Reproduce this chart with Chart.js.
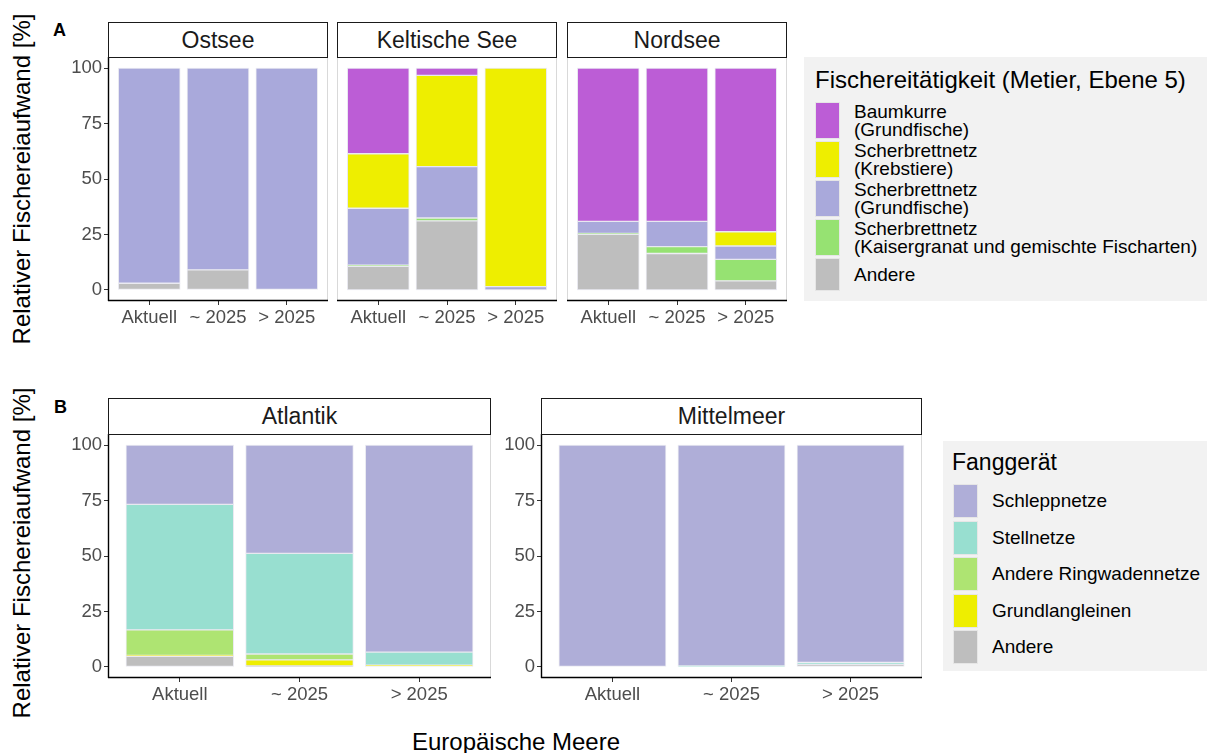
<!DOCTYPE html>
<html>
<head>
<meta charset="utf-8">
<script src="https://cdn.jsdelivr.net/npm/chart.js@4.4.1/dist/chart.umd.min.js"></script>
<style>
  body { margin: 0; background: #fff; font-family: "Liberation Sans", Arial, sans-serif; }
  #page { position: relative; width: 1207px; height: 753px; overflow: hidden; background: #fff; }
  .facet { position: absolute; }
  .strip { position: absolute; box-sizing: border-box; border: 1.3px solid #1a1a1a; background: #fff;
           display: flex; align-items: center; justify-content: center; font-size: 23px; color: #1a1a1a; }
  .ytitle { position: absolute; font-size: 24px; color: #000; white-space: nowrap;
            transform: translate(-50%, -50%) rotate(-90deg); }
  .tag { position: absolute; font-size: 18px; font-weight: bold; color: #000; }
  .legend { position: absolute; background: #f2f2f2; }
  .legend .title { position: absolute; font-size: 23px; color: #000; white-space: nowrap; }
  .legend .key { position: absolute; box-sizing: border-box; border: 1px solid #e6e6e6; }
  .legend .lab { position: absolute; font-size: 19px; line-height: 18px; color: #000; white-space: pre; }
  .xtitle { position: absolute; font-size: 24px; color: #000; white-space: nowrap; transform: translateX(-50%); }
</style>
</head>
<body>
<div id="page"></div>
<script>
const periods = ["Aktuell", "~ 2025", "> 2025"];
const yTicks = [0, 25, 50, 75, 100];

// A: Fischereitätigkeit (Metier, Ebene 5), Anteile in %
const metierLabels = ["Baumkurre\n(Grundfische)", "Scherbrettnetz\n(Krebstiere)", "Scherbrettnetz\n(Grundfische)",
  "Scherbrettnetz\n(Kaisergranat und gemischte Fischarten)", "Andere"];
const metierColors = ["#bc5dd6", "#eeee00", "#a9a9db", "#96e272", "#bebebe"];

const ostseeBaumkurre = [0, 0, 0];
const ostseeKrebstiere = [0, 0, 0];
const ostseeGrundfische = [97, 91, 100];
const ostseeKaisergranat = [0, 0, 0];
const ostseeAndere = [3, 9, 0];

const keltBaumkurre = [38.6, 3.3, 0];
const keltKrebstiere = [24.6, 41.1, 98.5];
const keltGrundfische = [25.6, 23.2, 1.5];
const keltKaisergranat = [0.6, 1.3, 0];
const keltAndere = [10.6, 31.1, 0];

const nordBaumkurre = [69.1, 69.1, 73.8];
const nordKrebstiere = [0, 0, 6.4];
const nordGrundfische = [5.4, 11.4, 6];
const nordKaisergranat = [0.5, 3.1, 9.7];
const nordAndere = [25, 16.4, 4.1];

// B: Fanggerät, Anteile in %
const gearLabels = ["Schleppnetze", "Stellnetze", "Andere Ringwadennetze", "Grundlangleinen", "Andere"];
const gearColors = ["#afaed8", "#98dfd0", "#aee472", "#eeee00", "#bebebe"];

const atlSchlepp = [26.7, 48.8, 93.3];
const atlStell = [56.6, 45.4, 5.9];
const atlRingwaden = [11.5, 2.6, 0];
const atlLangleinen = [0.4, 2.7, 0.8];
const atlAndere = [4.8, 0.5, 0];

const mitSchlepp = [100, 99.5, 98];
const mitStell = [0, 0.5, 1];
const mitRingwaden = [0, 0, 0];
const mitLangleinen = [0, 0, 0];
const mitAndere = [0, 0, 1];

const FONT = "'Liberation Sans', Arial, sans-serif";
const page = document.getElementById("page");

function el(cls, css, text) {
  const d = document.createElement("div");
  d.className = cls;
  Object.assign(d.style, css);
  if (text !== undefined) d.textContent = text;
  page.appendChild(d);
  return d;
}

// Rahmen + Achsenlinien wie bei ggplot
const panelFrame = {
  id: "panelFrame",
  beforeDatasetsDraw(chart) {
    const a = chart.chartArea, ctx = chart.ctx;
    ctx.save();
    ctx.strokeStyle = "#d9d9d9";
    ctx.lineWidth = 1;
    ctx.strokeRect(a.left + 0.5, a.top + 0.5, a.right - a.left - 1, a.bottom - a.top - 1);
    ctx.restore();
  },
  afterDatasetsDraw(chart, args, opts) {
    const a = chart.chartArea, ctx = chart.ctx;
    ctx.save();
    ctx.strokeStyle = "#000";
    ctx.lineWidth = 1.4;
    ctx.beginPath();
    ctx.moveTo(a.left, a.bottom - 0.5);
    ctx.lineTo(a.right, a.bottom - 0.5);
    if (opts.leftAxis) {
      ctx.moveTo(a.left + 0.5, a.top);
      ctx.lineTo(a.left + 0.5, a.bottom);
    }
    ctx.stroke();
    ctx.restore();
  }
};

function noPad(s) {
  s.paddingTop = 0; s.paddingBottom = 0; s.paddingLeft = 0; s.paddingRight = 0;
}

// series: von unten nach oben gestapelt
function facet(name, left, top, panelW, panelH, axisW, showY, series, colors, stripH) {
  const axisH = 40;
  const yw = showY ? axisW : 0;
  const box = el("facet", {
    left: (left - yw) + "px", top: top + "px",
    width: (yw + panelW) + "px", height: (panelH + axisH) + "px"
  });
  const canvas = document.createElement("canvas");
  box.appendChild(canvas);
  el("strip", { left: left + "px", top: (top - stripH) + "px", width: panelW + "px", height: (stripH + 1) + "px" }, name);

  const tickStyle = { drawOnChartArea: false, drawTicks: true, tickLength: 4, color: "#333", lineWidth: 1, offset: false };
  new Chart(canvas, {
    type: "bar",
    data: {
      datasets: series.map((vals, i) => ({
        data: vals.map((v, j) => ({ x: j + 1, y: v })),
        backgroundColor: colors[i],
        borderColor: "rgba(232,232,240,0.9)",
        borderWidth: 1,
        borderSkipped: false,
        barThickness: panelW / 3.2 * 0.9
      }))
    },
    options: {
      responsive: true,
      maintainAspectRatio: false,
      animation: false,
      layout: { padding: 0 },
      plugins: { legend: { display: false }, tooltip: { enabled: false }, panelFrame: { leftAxis: showY } },
      scales: {
        x: {
          type: "linear", stacked: true, min: 0.4, max: 3.6, offset: false,
          afterBuildTicks: s => { s.ticks = [1, 2, 3].map(v => ({ value: v })); },
          afterFit: s => { s.height = axisH; noPad(s); },
          grid: tickStyle,
          border: { display: false },
          ticks: { callback: v => periods[v - 1], autoSkip: false, maxRotation: 0,
                   font: { family: FONT, size: 18.5 }, color: "#4d4d4d", padding: 2 }
        },
        y: {
          display: showY, stacked: true, min: -5, max: 105,
          afterBuildTicks: s => { s.ticks = yTicks.map(v => ({ value: v })); },
          afterFit: s => { s.width = yw; noPad(s); },
          grid: tickStyle,
          border: { display: false },
          ticks: { font: { family: FONT, size: 18.5 }, color: "#4d4d4d", padding: 2 }
        }
      }
    },
    plugins: [panelFrame]
  });
}

function legend(left, top, width, height, title, labels, colors, o) {
  const lg = el("legend", { left: left + "px", top: top + "px", width: width + "px", height: height + "px" });
  const t = document.createElement("div");
  t.className = "title";
  t.textContent = title;
  Object.assign(t.style, { left: o.titleX + "px", top: o.titleY + "px", fontSize: o.titleSize + "px" });
  lg.appendChild(t);
  let y = o.keyY;
  labels.forEach((lab, i) => {
    const lines = lab.split("\n").length;
    const h = lines > 1 ? o.keyH2 : o.keyH1;
    const k = document.createElement("div");
    k.className = "key";
    Object.assign(k.style, { left: o.keyX + "px", top: y + "px", width: o.keyW + "px", height: h + "px", background: colors[i] });
    lg.appendChild(k);
    const l = document.createElement("div");
    l.className = "lab";
    l.textContent = lab;
    l.style.left = o.labX + "px";
    l.style.top = (y + h / 2 - lines * 9) + "px";
    lg.appendChild(l);
    y += h + o.gap;
  });
}

// Teil A
el("tag", { left: "53px", top: "20px" }, "A");
el("ytitle", { left: "22px", top: "179px" }, "Relativer Fischereiaufwand [%]");
facet("Ostsee", 108, 57, 220, 244, 48, true,
  [ostseeAndere, ostseeKaisergranat, ostseeGrundfische, ostseeKrebstiere, ostseeBaumkurre], metierColors.slice().reverse(), 35);
facet("Keltische See", 337, 57, 220, 244, 48, false,
  [keltAndere, keltKaisergranat, keltGrundfische, keltKrebstiere, keltBaumkurre], metierColors.slice().reverse(), 35);
facet("Nordsee", 567, 57, 220, 244, 48, false,
  [nordAndere, nordKaisergranat, nordGrundfische, nordKrebstiere, nordBaumkurre], metierColors.slice().reverse(), 35);
legend(804, 57, 403, 244, "Fischereitätigkeit (Metier, Ebene 5)", metierLabels, metierColors,
  { titleX: 11, titleY: 9, titleSize: 24, keyX: 11, keyY: 45, keyW: 25, keyH2: 37, keyH1: 33, gap: 2, labX: 50 });

// Teil B
el("tag", { left: "54px", top: "397px" }, "B");
el("ytitle", { left: "22px", top: "553px" }, "Relativer Fischereiaufwand [%]");
facet("Atlantik", 108, 434, 383, 244, 48, true,
  [atlAndere, atlLangleinen, atlRingwaden, atlStell, atlSchlepp], gearColors.slice().reverse(), 36);
facet("Mittelmeer", 541, 434, 381, 244, 48, true,
  [mitAndere, mitLangleinen, mitRingwaden, mitStell, mitSchlepp], gearColors.slice().reverse(), 36);
legend(943, 441, 264, 230, "Fanggerät", gearLabels, gearColors,
  { titleX: 9, titleY: 8, titleSize: 23, keyX: 10, keyY: 43, keyW: 25, keyH2: 34, keyH1: 34, gap: 2.5, labX: 49 });

el("xtitle", { left: "516px", top: "728px" }, "Europäische Meere");
</script>
</body>
</html>
